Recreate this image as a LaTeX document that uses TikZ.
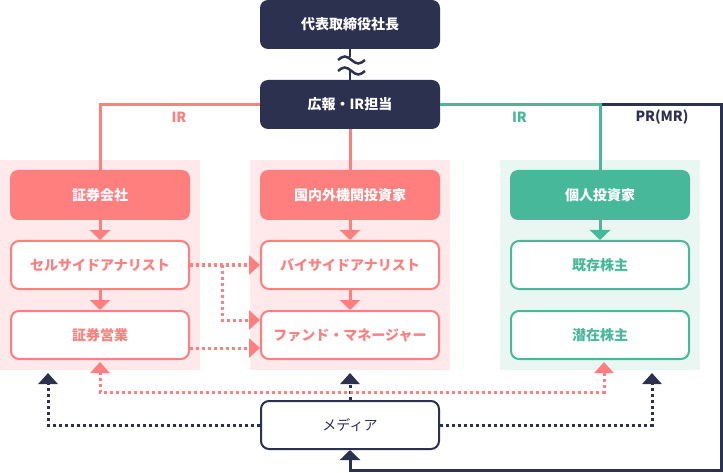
\documentclass[tikz,border=0pt]{standalone}
\usepackage{fontspec}
\setmainfont{Noto Sans CJK JP}
\usetikzlibrary{arrows.meta,calc}
\definecolor{navy}{HTML}{2D3150}
\definecolor{salmon}{HTML}{FF7F7F}
\definecolor{mygreen}{HTML}{47B99A}
\definecolor{pinkbg}{HTML}{FFE9EA}
\definecolor{greenbg}{HTML}{EAF6F2}
\tikzset{
  hdr/.style={rounded corners=8pt, minimum width=180pt, minimum height=50pt, inner sep=0pt,
    font=\bfseries\fontsize{14}{16}\selectfont, text=white},
  subbox/.style={draw, line width=2pt, fill=white, rounded corners=8pt, minimum width=178pt,
    minimum height=48pt, inner sep=0pt, font=\bfseries\fontsize{14}{16}\selectfont},
  panel/.style={inner sep=0pt, minimum width=200pt, minimum height=210pt},
  conn/.style={line width=3pt},
  tip/.style={-{Triangle[width=20pt,length=10pt]}},
  dtip/.style={-{Triangle[width=19pt,length=11pt]}},
  dots/.style={line width=3pt, dash pattern=on 3pt off 3pt},
  lbl/.style={font=\bfseries\fontsize{14}{16}\selectfont}
}
\begin{document}
\begin{tikzpicture}[x=1pt,y=-1pt]
\useasboundingbox (0,0) rectangle (723,473);
% panels
\node[panel, fill=pinkbg] (pL) at (100,265) {};
\node[panel, fill=pinkbg] (pM) at (350,265) {};
\node[panel, fill=greenbg] (pR) at (600,265) {};

% top boxes
\node[hdr, fill=navy, minimum height=49pt] (ceo) at (350,24.5) {代表取締役社長};
\node[hdr, fill=navy, minimum height=49pt] (pr) at (350,104.5) {広報・IR担当};
\node[subbox, draw=navy, text=navy, font=\fontsize{14}{16}\selectfont] (media) at (350,425) {メディア};

% column headers
\node[hdr, fill=salmon] (hL) at (100,195) {証券会社};
\node[hdr, fill=salmon] (hM) at (350,195) {国内外機関投資家};
\node[hdr, fill=mygreen] (hR) at (600,195) {個人投資家};

% sub boxes
\node[subbox, draw=salmon, text=salmon] (sa) at (100,265) {セルサイドアナリスト};
\node[subbox, draw=salmon, text=salmon] (ss) at (100,335) {証券営業};
\node[subbox, draw=salmon, text=salmon] (ba) at (350,265) {バイサイドアナリスト};
\node[subbox, draw=salmon, text=salmon] (fm) at (350,335) {ファンド・マネージャー};
\node[subbox, draw=mygreen, text=mygreen] (ex) at (600,265) {既存株主};
\node[subbox, draw=mygreen, text=mygreen] (la) at (600,335) {潜在株主};

% wavy link between top boxes
\draw[navy, line width=2.5pt] (ceo.south) -- (350,57);
\draw[navy, line width=2.5pt] (350,71) -- (pr.north);
\draw[navy, line width=2.5pt] (338,60) sin (344.75,56.5) cos (351.5,60) sin (358.25,63.5) cos (365,60);
\draw[navy, line width=2.5pt] (338,71) sin (344.75,67.5) cos (351.5,71) sin (358.25,74.5) cos (365,71);

% PR line (dark) to media
\coordinate (prR) at (721.5,104.5);
\coordinate (prB) at (721.5,470.5);
\draw[conn, navy, tip] (pr.east) -- (prR) -- (prB) -| (media.south);

% IR lines
\draw[conn, salmon] (pr.west) -| (hL.north);
\draw[conn, salmon] (pr.south) -- (hM.north);
\draw[conn, mygreen] (pr.east) -| (hR.north);

\node[lbl, text=salmon] (irL) at (179,117.5) {IR};
\node[lbl, text=mygreen] (irR) at (519.5,117.5) {IR};
\node[lbl, text=navy] (prl) at (662,117.5) {PR(MR)};

% down arrows
\draw[conn, salmon, tip] (hL.south) -- (sa.north);
\draw[conn, salmon, tip] (sa.south) -- (ss.north);
\draw[conn, salmon, tip] (hM.south) -- (ba.north);
\draw[conn, salmon, tip] (ba.south) -- (fm.north);
\draw[conn, mygreen, tip] (hR.south) -- (ex.north);

% pink dotted between columns
\coordinate (br) at (222,265);
\draw[dots, salmon, dtip] (sa.east) -- (ba.west);
\draw[dots, salmon, dtip] (br) |- ($(fm.west)+(0,-15)$);
\draw[dots, salmon, dtip] ($(ss.east)+(0,13)$) -- ($(fm.west)+(0,13)$);

% media dotted arrows
\coordinate (tL) at (48,373);
\coordinate (tM) at (350,373);
\coordinate (tR) at (652,373);
\draw[dots, navy, dtip] (media.west) -| (tL);
\draw[dots, navy, dtip] (media.east) -| (tR);
\draw[dots, navy, dtip] (media.north) -- (tM);

% pink dotted bottom double arrow
\coordinate (pbL) at ($(ss.south)+(0,2)$);
\coordinate (pbR) at ($(la.south)+(4,2)$);
\draw[dots, salmon, {Triangle[width=19pt,length=11pt]}-{Triangle[width=19pt,length=11pt]}]
  (pbL) -- (100,392) -- (604,392) -- (pbR);
\end{tikzpicture}
\end{document}
